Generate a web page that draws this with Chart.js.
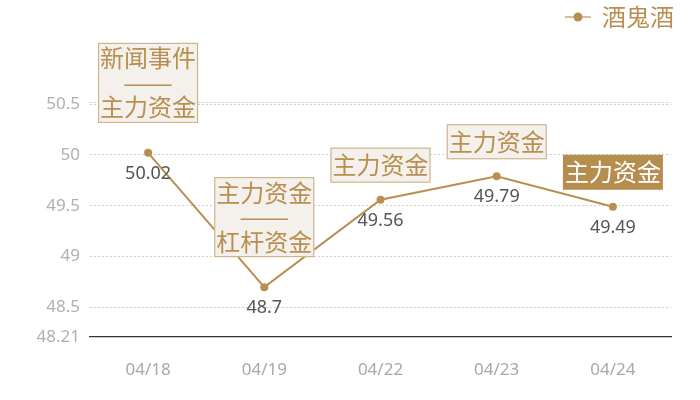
<!DOCTYPE html>
<html>
<head>
<meta charset="utf-8">
<script src="https://cdn.jsdelivr.net/npm/chart.js@4.4.1/dist/chart.umd.min.js"></script>
<style>
html,body{margin:0;padding:0;background:#fff;}
#wrap{width:700px;height:400px;}
</style>
</head>
<body>
<div id="wrap"><canvas id="c"></canvas></div>
<script>
const categories = ["04/18", "04/19", "04/22", "04/23", "04/24"];
const seriesName = "酒鬼酒";
const values = [50.02, 48.7, 49.56, 49.79, 49.49];
const yTicks = [48.21, 48.5, 49, 49.5, 50, 50.5];
const yMin = 48.21;
const yMax = 50.52;
const annoTexts = [
  ["新闻事件", "——", "主力资金"],
  ["主力资金", "——", "杠杆资金"],
  ["主力资金"],
  ["主力资金"],
  ["主力资金"]
];
const annoFilled = [false, false, false, false, true];

const GOLD = "#b88f50";
const FONT = "'Noto Sans CJK SC', 'Noto Sans', sans-serif";
const NUMFONT = "'Noto Sans', 'Noto Sans CJK SC', sans-serif";
const TOP_PAD = 63;

// legend marker: short line with a dot
const marker = document.createElement("canvas");
marker.width = 26; marker.height = 12;
(function(){
  const m = marker.getContext("2d");
  m.strokeStyle = "#c9a878"; m.lineWidth = 1.5;
  m.beginPath(); m.moveTo(0, 6); m.lineTo(26, 6); m.stroke();
  m.fillStyle = GOLD;
  m.beginPath(); m.arc(13, 6, 4.5, 0, Math.PI * 2); m.fill();
})();

const legendShift = {
  id: "legendShift",
  afterLayout(chart) {
    const lg = chart.legend;
    if (!lg) return;
    lg.top -= TOP_PAD; lg.bottom -= TOP_PAD;
    lg.left += 8; lg.right += 8;
  }
};

const annoPlugin = {
  id: "annoPlugin",
  afterDatasetsDraw(chart) {
    const ctx = chart.ctx;
    const meta = chart.getDatasetMeta(0);
    ctx.save();
    meta.data.forEach((pt, i) => {
      const lines = annoTexts[i];
      const lh = 24.5;
      const w = 100;
      const h = lines.length === 1 ? 35 : 80;
      const gap = lines.length === 1 ? 17 : 30;
      const left = pt.x - w / 2;
      const top = pt.y - gap - h;
      if (annoFilled[i]) {
        ctx.fillStyle = "#b58d4e";
        ctx.fillRect(left, top, w, h);
      } else {
        ctx.fillStyle = "#f4f1ec";
        ctx.fillRect(left, top, w, h);
        ctx.strokeStyle = "#c9aa7c";
        ctx.lineWidth = 1;
        ctx.strokeRect(left + 0.5, top + 0.5, w - 1, h - 1);
      }
      ctx.fillStyle = annoFilled[i] ? "#ffffff" : GOLD;
      ctx.font = "24px " + FONT;
      ctx.textAlign = "center";
      ctx.textBaseline = "middle";
      const startY = top + h / 2 - (lines.length - 1) * lh / 2;
      lines.forEach((t, k) => {
        const y = startY + k * lh;
        if (/^—+$/.test(t)) {
          const mw = ctx.measureText(t).width || 1;
          ctx.save();
          ctx.translate(pt.x, y);
          ctx.scale(50 / mw, 1);
          ctx.fillText(t, 0, 0);
          ctx.restore();
        } else {
          ctx.fillText(t, pt.x, y);
        }
      });
      // value label under point
      ctx.fillStyle = "#555555";
      ctx.font = "18px " + NUMFONT;
      ctx.fillText(String(values[i]), pt.x, pt.y + 21);
    });
    ctx.restore();
  }
};

new Chart(document.getElementById("c"), {
  type: "line",
  data: {
    labels: categories,
    datasets: [{
      label: seriesName,
      data: values,
      borderColor: GOLD,
      backgroundColor: GOLD,
      borderWidth: 2,
      pointRadius: 4,
      pointBackgroundColor: GOLD,
      pointBorderWidth: 0,
      pointStyle: "circle",
      tension: 0,
      clip: false
    }]
  },
  options: {
    responsive: true,
    maintainAspectRatio: false,
    animation: false,
    layout: { padding: { top: TOP_PAD, right: 29, left: 0, bottom: 0 } },
    plugins: {
      tooltip: { enabled: false },
      legend: {
        position: "top",
        align: "end",
        labels: {
          usePointStyle: true,
          color: GOLD,
          font: { size: 24, family: FONT },
          padding: 5,
          generateLabels(chart) {
            return [{
              text: seriesName,
              pointStyle: marker,
              fillStyle: GOLD,
              strokeStyle: GOLD,
              lineWidth: 0,
              fontColor: GOLD,
              datasetIndex: 0,
              hidden: false
            }];
          }
        }
      }
    },
    scales: {
      x: {
        offset: true,
        grid: { display: false, drawTicks: false },
        border: { display: true, color: "#333333", width: 1.2 },
        ticks: { color: "#a8a8a8", font: { size: 17, family: NUMFONT }, padding: 23 },
        afterFit(scale) { scale.height = 63; }
      },
      y: {
        min: yMin,
        max: yMax,
        afterBuildTicks(scale) { scale.ticks = yTicks.concat([yMax]).map(v => ({ value: v })); },
        grid: {
          drawTicks: false,
          color: ctx => (ctx.tick && ctx.tick.value === yMin) ? "rgba(0,0,0,0)" : "#cfcfcf",
          lineWidth: 1
        },
        border: { display: false, dash: [2, 2] },
        ticks: {
          color: "#b0b0b0",
          font: { size: 17, family: NUMFONT },
          padding: 10,
          callback: v => yTicks.includes(v) ? String(v) : ""
        },
        afterFit(scale) { scale.width = 90; }
      }
    }
  },
  plugins: [legendShift, annoPlugin]
});
</script>
</body>
</html>
